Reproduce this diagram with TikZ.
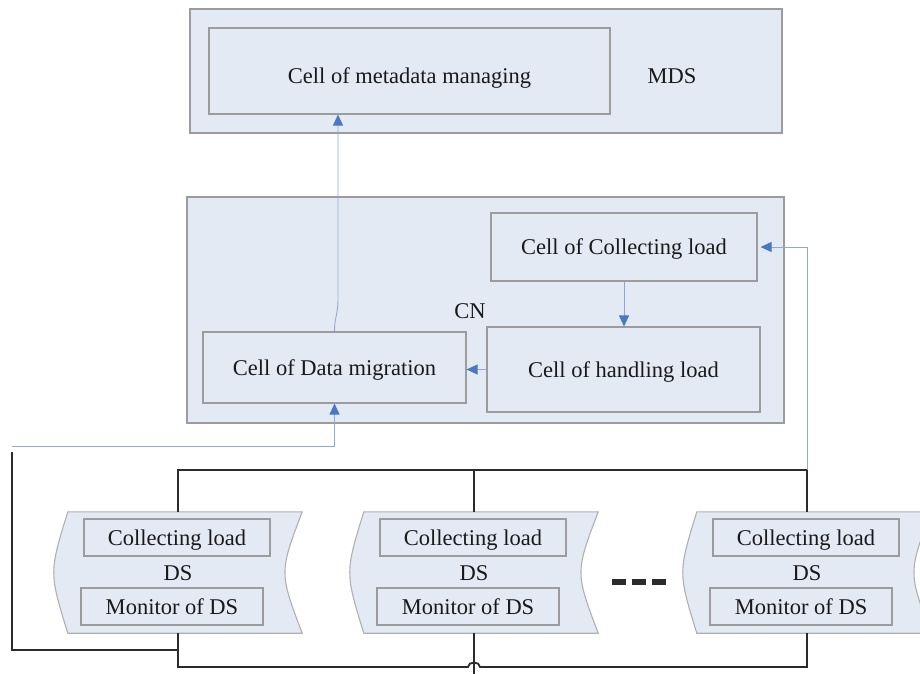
\documentclass[tikz,border=0pt]{standalone}
\usepackage{fontspec}
\setmainfont{Liberation Serif}
\usetikzlibrary{arrows.meta,calc}

\definecolor{boxfill}{HTML}{E4EAF4}
\definecolor{boxline}{HTML}{9C9C9C}
\definecolor{flowline}{HTML}{8FA9D6}
\definecolor{flowhead}{HTML}{4A78C2}
\definecolor{busline}{HTML}{2B2B2B}

\tikzset{
  every node/.style={font=\fontsize{22.5}{27}\selectfont, text=black!90},
  panel/.style={draw=boxline, fill=boxfill, line width=1.1pt, inner sep=0pt},
  cellbox/.style={draw=boxline, fill=boxfill, line width=1.1pt, inner sep=0pt, text depth=0pt},
  dsnode/.style={minimum width=248pt, minimum height=121pt, inner sep=0pt},
  dsshape/.style={draw=boxline!80, fill=boxfill, line width=1.1pt},
  flow/.style={draw=flowline, line width=0.9pt,
    -{Triangle[length=11pt,width=10pt,fill=flowhead,color=flowhead]}},
  bus/.style={draw=busline, line width=1.8pt},
}

\begin{document}
\begin{tikzpicture}[x=1pt,y=-1pt]
\useasboundingbox (0,0) rectangle (920,673);
\clip (0,0) rectangle (920,673);
\fill[white] (0,0) rectangle (920,673);

% ---- metadata server ----
\node[panel, minimum width=592pt, minimum height=124pt] (mds) at (486,71) {};
\node[cellbox, minimum width=401pt, minimum height=86pt, text height=24pt] (mm) at (409.5,71) {Cell of metadata managing};
\node (mdslabel) at (672,76) {MDS};

% ---- control node ----
\node[panel, minimum width=597pt, minimum height=226pt] (cn) at (485.5,310) {};
\node[cellbox, minimum width=266pt, minimum height=68pt] (cl) at (624,247) {Cell of Collecting load};
\node[cellbox, minimum width=273pt, minimum height=85pt] (hl) at (623.5,369.5) {Cell of handling load};
\node[cellbox, minimum width=263pt, minimum height=71pt] (dm) at (334.5,367.5) {Cell of Data migration};
\node (cnlabel) at (470,311) {CN};

% ---- data servers ----
\node[dsnode] (ds1) at (178,572.5) {};
\node[dsnode] (ds2) at (474,572.5) {};
\node[dsnode] (ds3) at (807,572.5) {};
\foreach \n in {ds1,ds2,ds3}{
  \draw[dsshape] ([xshift=14pt]\n.north west) -- (\n.north east)
    .. controls ([xshift=-23pt]\n.east) .. (\n.south east)
    -- ([xshift=14pt]\n.south west)
    .. controls ([xshift=-4.7pt]\n.west) .. cycle;
  \node[cellbox, minimum width=186pt, minimum height=37pt] (\n c) at ([xshift=-1pt,yshift=35pt]\n.center) {Collecting load};
  \node (\n l) at ([yshift=-1pt]\n.center) {DS};
  \node[cellbox, minimum width=182pt, minimum height=37pt] (\n m) at ([xshift=-6pt,yshift=-34pt]\n.center) {Monitor of DS};
}

% ellipsis between the data servers
\draw[busline, line width=6pt, dash pattern=on 14pt off 6pt] (612,582) -- (666,582);

% ---- bus wiring ----
\coordinate (bustop) at (0,470);
\coordinate (busbot) at (0,667);
\coordinate (lcorner) at (12,650);
\coordinate (ltop) at (12,452);
\draw[bus] (ds1.north) -- (ds1.north |- bustop) -- (ds3.north |- bustop) -- (ds3.north);
\draw[bus] (ds2.north) -- (ds2.north |- bustop);
\draw[bus] (ds1.south) -- (ds1.south |- busbot) -- ([xshift=-6pt]ds2.south |- busbot)
  .. controls ([xshift=-6pt,yshift=6pt]ds2.south |- busbot) and ([xshift=6pt,yshift=6pt]ds2.south |- busbot)
  .. ([xshift=6pt]ds2.south |- busbot) -- (ds3.south |- busbot) -- (ds3.south);
\draw[bus] (ds2.south) -- ++(0,50);
\draw[bus] (ltop) -- (lcorner) -- (lcorner -| ds1.south);

% ---- message flows ----
\coordinate (bend) at (338,300);
\draw[flow] (dm.north) .. controls ([yshift=14pt]dm.north) and ([yshift=-14pt]bend) .. (bend) -- (mm.south -| bend);
\draw[flow] (cl.south) -- (cl.south |- hl.north);
\draw[flow] (hl.west) -- (hl.west -| dm.east);
\coordinate (rturn) at (807,247);
\draw[flow, shorten >=3pt] (ds3.north |- bustop) -- (rturn) -- (rturn -| cl.east);
\coordinate (lturn) at (12,446);
\draw[flow] (lturn) -- (lturn -| dm.south) -- (dm.south);
\end{tikzpicture}
\end{document}
